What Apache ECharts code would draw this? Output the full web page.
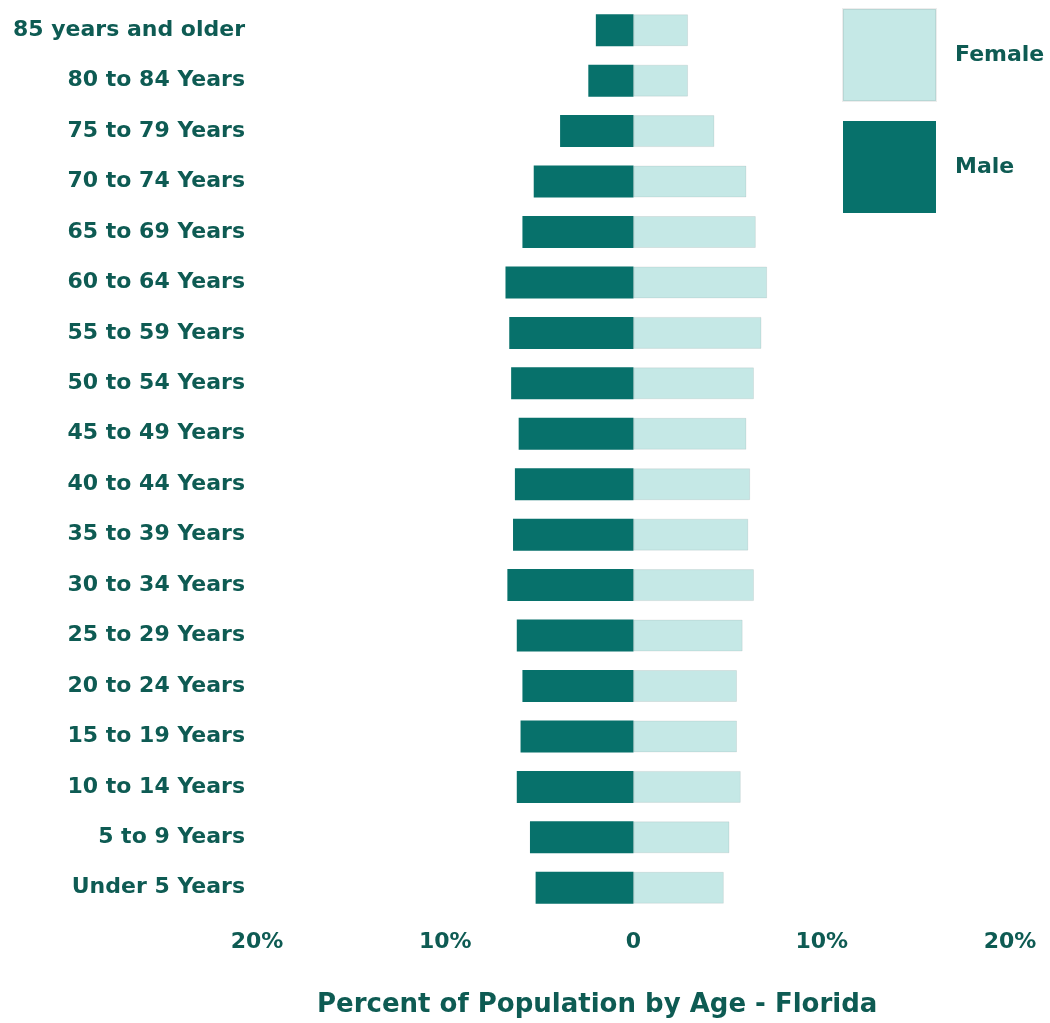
<!DOCTYPE html>
<html>
<head>
<meta charset="utf-8">
<script src="https://cdn.jsdelivr.net/npm/echarts@6/dist/echarts.min.js"></script>
<style>
  html, body { margin: 0; padding: 0; background: #fff; }
  #chart { width: 1050px; height: 1023px; }
</style>
</head>
<body>
<div id="chart"></div>
<script>
// age groups, bottom to top
var ageGroups = ["Under 5 Years", "5 to 9 Years", "10 to 14 Years", "15 to 19 Years", "20 to 24 Years",
  "25 to 29 Years", "30 to 34 Years", "35 to 39 Years", "40 to 44 Years", "45 to 49 Years",
  "50 to 54 Years", "55 to 59 Years", "60 to 64 Years", "65 to 69 Years", "70 to 74 Years",
  "75 to 79 Years", "80 to 84 Years", "85 years and older"];
var malePct = [5.2, 5.5, 6.2, 6.0, 5.9, 6.2, 6.7, 6.4, 6.3, 6.1, 6.5, 6.6, 6.8, 5.9, 5.3, 3.9, 2.4, 2.0];
var femalePct = [4.8, 5.1, 5.7, 5.5, 5.5, 5.8, 6.4, 6.1, 6.2, 6.0, 6.4, 6.8, 7.1, 6.5, 6.0, 4.3, 2.9, 2.9];
var xTicks = [-20, -10, 0, 10, 20];

var txt = '#0e5b53';
var font = 'DejaVu Sans';

var chart = echarts.init(document.getElementById('chart'));
var option = {
  backgroundColor: '#fff',
  animation: false,
  title: {
    text: 'Percent of Population by Age - Florida',
    left: 312,
    top: 987,
    textStyle: { color: txt, fontFamily: font, fontWeight: 'bold', fontSize: 26 }
  },
  legend: {
    orient: 'vertical',
    left: 837,
    top: 3,
    itemWidth: 93,
    itemHeight: 92,
    itemGap: 19,
    icon: 'rect',
    data: ['Female', 'Male'],
    textStyle: { color: txt, fontFamily: font, fontWeight: 'bold', fontSize: 22, padding: [0, 0, 0, 14] }
  },
  grid: { left: 257, right: 40, top: 5, bottom: 110, containLabel: false },
  xAxis: {
    type: 'value',
    min: xTicks[0],
    max: xTicks[xTicks.length - 1],
    interval: 10,
    splitLine: { show: false },
    axisLine: { show: false },
    axisTick: { show: false },
    axisLabel: {
      margin: 18,
      color: txt, fontFamily: font, fontWeight: 'bold', fontSize: 22,
      formatter: function (v) { return v === 0 ? '0' : Math.abs(v) + '%'; }
    }
  },
  yAxis: {
    type: 'category',
    data: ageGroups,
    axisLine: { show: false },
    axisTick: { show: false },
    axisLabel: { margin: 12, color: txt, fontFamily: font, fontWeight: 'bold', fontSize: 22 }
  },
  series: [
    {
      name: 'Male',
      type: 'bar',
      barWidth: 32,
      barGap: '-100%',
      data: malePct.map(function (v) { return -v; }),
      itemStyle: { color: '#07716b' }
    },
    {
      name: 'Female',
      type: 'bar',
      barWidth: 32,
      data: femalePct,
      itemStyle: { color: '#c5e8e6', borderColor: 'rgba(0,0,0,0.07)', borderWidth: 1 }
    }
  ]
};
chart.setOption(option);
</script>
</body>
</html>
